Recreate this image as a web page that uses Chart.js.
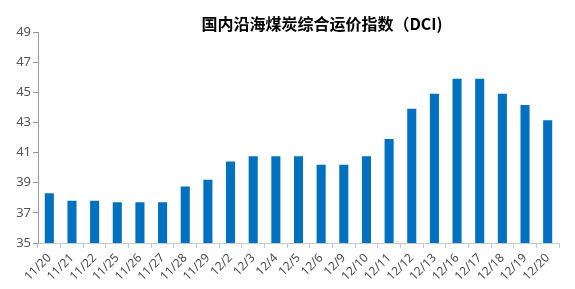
<!DOCTYPE html>
<html>
<head>
<meta charset="utf-8">
<script src="https://cdn.jsdelivr.net/npm/chart.js@4/dist/chart.umd.min.js"></script>
<style>
    html, body { margin: 0; padding: 0; background: #fff; }
    #wrap { width: 575px; height: 289px; position: relative; }
</style>
</head>
<body>
<div id="wrap"><canvas id="dci-chart"></canvas></div>
<script>
const chartTitle = "国内沿海煤炭综合运价指数（DCI)";
const dates = ["11/20", "11/21", "11/22", "11/25", "11/26", "11/27", "11/28", "11/29",
    "12/2", "12/3", "12/4", "12/5", "12/6", "12/9", "12/10", "12/11", "12/12",
    "12/13", "12/16", "12/17", "12/18", "12/19", "12/20"];
const dciValues = [38.3, 37.8, 37.8, 37.7, 37.7, 37.7, 38.75, 39.2,
    40.4, 40.75, 40.75, 40.75, 40.2, 40.2, 40.75, 41.9, 43.9,
    44.9, 45.9, 45.9, 44.9, 44.15, 43.15];
const yMin = 35;
const yMax = 49;
const yStep = 2;

// title is not centred on the canvas in the original, so draw it ourselves
const titlePlugin = {
    id: "titleText",
    afterDraw(c) {
        const ctx = c.ctx;
        ctx.save();
        ctx.font = "bold 16px 'Noto Sans CJK SC'";
        ctx.fillStyle = "#000";
        ctx.textAlign = "center";
        ctx.textBaseline = "middle";
        ctx.fillText(chartTitle, 322, 24);
        ctx.restore();
    }
};

new Chart(document.getElementById("dci-chart"), {
    type: "bar",
    data: {
        labels: dates,
        datasets: [{
            label: "DCI",
            data: dciValues,
            backgroundColor: "#0070c0",
            barPercentage: 0.4,
            categoryPercentage: 1
        }]
    },
    options: {
        responsive: true,
        maintainAspectRatio: false,
        animation: false,
        layout: { padding: { top: 32, left: 0, right: 16, bottom: 0 } },
        plugins: {
            legend: { display: false },
            tooltip: { enabled: false }
        },
        scales: {
            x: {
                offset: true,
                grid: { display: true, drawOnChartArea: false, tickLength: 5, color: "#c8c8c8", offset: true },
                border: { color: "#c8c8c8" },
                ticks: {
                    minRotation: 45,
                    maxRotation: 45,
                    autoSkip: false,
                    padding: 3,
                    color: "#4a4a4a",
                    font: { size: 12, family: "'Noto Sans', sans-serif" }
                },
                afterFit(scale) { scale.height = 46; }
            },
            y: {
                min: yMin,
                max: yMax,
                grid: { display: true, drawOnChartArea: false, tickLength: 5, color: "#999" },
                border: { color: "#999" },
                ticks: {
                    stepSize: yStep,
                    padding: 2,
                    color: "#555",
                    font: { size: 13, family: "'Noto Sans', sans-serif" }
                },
                afterFit(scale) { scale.width = 38; }
            }
        }
    },
    plugins: [titlePlugin]
});
</script>
</body>
</html>
